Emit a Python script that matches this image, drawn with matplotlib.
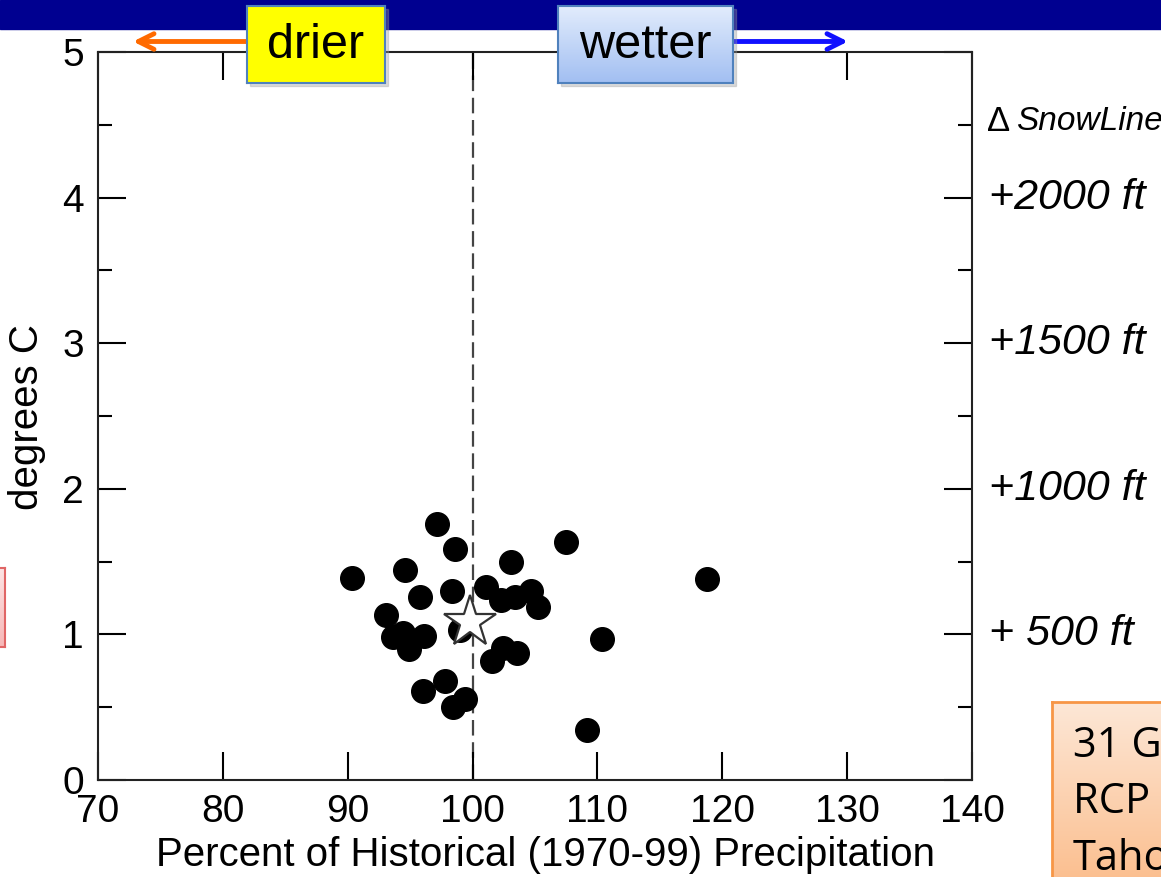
#!/usr/bin/env python3
"""Projected warming vs precipitation change scatter (GCM ensemble)."""

import matplotlib

matplotlib.use("Agg")
import matplotlib.pyplot as plt
import numpy as np
from matplotlib.colors import to_rgb
from matplotlib.patches import Rectangle
from matplotlib.transforms import blended_transform_factory

# percent of historical precipitation / warming (deg C), one point per model
precip_pct = [90.35, 97.18, 98.62, 94.56, 103.05, 107.5, 118.8, 95.79, 98.35,
              101.07, 102.25, 103.42, 104.68, 105.24, 93.07, 93.65, 94.45,
              94.93, 96.11, 98.99, 102.46, 101.56, 103.53, 110.34, 97.79,
              96.05, 99.39, 98.41, 109.16]
warming_c = [1.39, 1.76, 1.585, 1.44, 1.50, 1.635, 1.383, 1.255, 1.30,
             1.323, 1.236, 1.26, 1.30, 1.19, 1.131, 0.98, 1.007,
             0.90, 0.99, 1.03, 0.905, 0.82, 0.87, 0.97, 0.68,
             0.61, 0.554, 0.503, 0.343]
# ensemble mean (star)
mean_precip = [99.79]
mean_warming = [1.087]

snowline_levels = [1, 2, 3, 4]
snowline_labels = ["+ 500 ft", "+1000 ft", "+1500 ft", "+2000 ft"]

x_ticks = [70, 80, 90, 100, 110, 120, 130, 140]
y_ticks = [0, 1, 2, 3, 4, 5]

W, H = 1161, 877
FONT = "Liberation Sans"


def fx(px):
    return px / W


def fy(py):
    return 1 - py / H


def gradient_axes(fig, x0, y0, x1, y1, top, bottom, edge, lw=1.5, z=5):
    bax = fig.add_axes([fx(x0), fy(y1), fx(x1) - fx(x0), fy(y0) - fy(y1)], zorder=z)
    t, b = np.array(to_rgb(top)), np.array(to_rgb(bottom))
    grad = np.linspace(0, 1, 64)[:, None, None] * (b - t) + t
    bax.imshow(np.repeat(grad, 2, axis=1), aspect="auto", extent=(x0, x1, y1, y0))
    bax.set_xlim(x0, x1)
    bax.set_ylim(y1, y0)
    bax.set_xticks([])
    bax.set_yticks([])
    for s in bax.spines.values():
        s.set_color(edge)
        s.set_linewidth(lw)
    return bax


def main():
    fig = plt.figure(figsize=(W / 100, H / 100), dpi=100)
    fig.patch.set_facecolor("white")

    # slide title bar
    fig.patches.append(Rectangle((0, fy(29)), 1, 29 / H, transform=fig.transFigure,
                                 color="#000090", zorder=0))

    ax = fig.add_axes([fx(98), fy(780), fx(972) - fx(98), fy(52) - fy(780)])
    ax.axvline(100, color="#444444", linestyle=(0, (7, 3)), linewidth=1.6, zorder=1)
    ax.plot(precip_pct, warming_c, "o", color="black", markersize=17, zorder=2)
    ax.plot(mean_precip, mean_warming, "*", markersize=39, markerfacecolor="white",
            markeredgecolor="#333333", markeredgewidth=1.6, zorder=3)

    ax.set_xlim(70, 140)
    ax.set_ylim(0, 5)
    ax.set_xticks(x_ticks)
    ax.set_yticks(y_ticks)
    ax.set_yticks(np.arange(0.5, 5, 1.0), minor=True)
    ax.tick_params(direction="in", length=20, width=1.5, top=True, right=True,
                   labelsize=28, pad=10)
    ax.tick_params(which="minor", direction="in", length=10, width=1.5, right=True)
    for lab in ax.get_xticklabels() + ax.get_yticklabels():
        lab.set_fontfamily(FONT)
    for s in ax.spines.values():
        s.set_linewidth(1.5)
        s.set_color("#222222")

    # snow line labels on the right
    tr = blended_transform_factory(ax.transAxes, ax.transData)
    for lvl, lab in zip(snowline_levels, snowline_labels):
        ax.text(1.0195, lvl, lab, transform=tr, fontsize=31, fontfamily=FONT,
                fontstyle="italic", va="center", ha="left")
    ax.text(1.017, 4.52, "\u0394", transform=tr, fontsize=25, fontfamily=FONT,
            va="center", ha="left")
    ax.text(1.0505, 4.52, "SnowLine", transform=tr, fontsize=24, fontfamily=FONT,
            fontstyle="italic", va="center", ha="left")

    fig.text(fx(545), fy(855), "Percent of Historical (1970-99) Precipitation",
             fontsize=29, fontfamily=FONT, ha="center", va="center")
    fig.text(fx(27), fy(417), "degrees C", fontsize=29, fontfamily=FONT,
             rotation=90, ha="center", va="center")

    # drier / wetter arrows and labels
    ax.annotate("", xy=(133, H - 41.5), xytext=(250, H - 41.5), xycoords="figure pixels",
                arrowprops=dict(arrowstyle="->", color="#ff6a00", lw=3.5, mutation_scale=28,
                                shrinkA=0, shrinkB=0), annotation_clip=False)
    ax.annotate("", xy=(848, H - 41.5), xytext=(730, H - 41.5), xycoords="figure pixels",
                arrowprops=dict(arrowstyle="->", color="#1010ff", lw=3.5, mutation_scale=28,
                                shrinkA=0, shrinkB=0), annotation_clip=False)

    for x0, x1 in [(247, 385), (558, 733)]:
        fig.patches.append(Rectangle((fx(x0 + 3), fy(86)), fx(x1) - fx(x0), fy(6) - fy(83),
                                     transform=fig.transFigure, color="#999999",
                                     alpha=0.35, zorder=4))
    dax = gradient_axes(fig, 247, 6, 385, 83, "#ffff00", "#ffff00", "#4f81bd")
    dax.text(316, 46, "drier", fontsize=35, fontfamily=FONT, ha="center", va="center")
    wax = gradient_axes(fig, 558, 6, 733, 83, "#e2ecfc", "#a2bff2", "#4f81bd")
    wax.text(645.5, 46, "wetter", fontsize=35, fontfamily=FONT, ha="center", va="center")

    # partly visible slide boxes at the edges
    gradient_axes(fig, -10, 568, 5, 647, "#fde4e4", "#f7b7b7", "#e06666")
    oax = gradient_axes(fig, 1052, 702, 1175, 890, "#fde7d6", "#fbbd8c", "#f79646", lw=2)
    for y, line in [(757, "31 GCMs"), (813, "RCP 8.5"), (870, "Tahoe")]:
        oax.text(1073, y, line, fontsize=30, fontfamily="Open Sans", ha="left",
                 va="baseline", clip_on=True)

    fig.savefig("out.png", dpi=100)


if __name__ == "__main__":
    main()
